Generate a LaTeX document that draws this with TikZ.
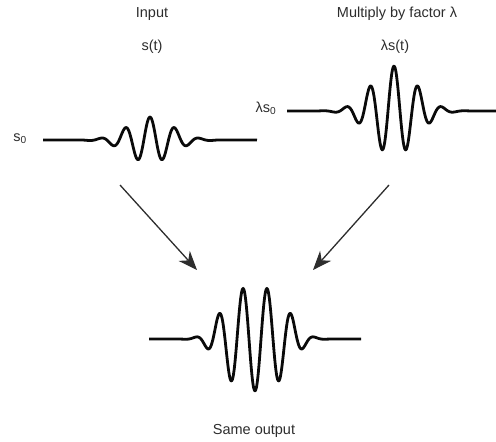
\documentclass[tikz,border=0pt]{standalone}
\usepackage{fontspec}
\setmainfont{Liberation Sans}
\usetikzlibrary{arrows.meta}
\begin{document}
\begin{tikzpicture}[x=1pt, y=-1pt]
  % Colors
  \definecolor{txtcol}{RGB}{45,45,45}
  \definecolor{inkcol}{RGB}{10,10,10}
  %
  \tikzset{
    lbl/.style={font=\fontsize{14.5}{17}\selectfont, text=txtcol, inner sep=0pt},
    wave/.style={draw=inkcol, line width=2.8pt, line join=round, smooth, samples=260},
    flow/.style={draw=txtcol, line width=1.3pt,
                 -{Stealth[length=19pt, width=15pt, inset=6pt]}},
  }
  \useasboundingbox (0,0) rectangle (496,442);
  %
  %%% INPUT %%%
  \node[lbl] (intitle) at (152, 14) {Input};
  \node[lbl] (insig) at (152, 47) {s(t)};
  \node[lbl] (inlev) at (20, 139) {s\textsubscript{0}};
  \draw[wave] plot[domain=43:257]
    (\x, {140 - 23*exp(-(((\x-150)/31)^2))*cos(14.6*(\x-150))});
  %
  %%% SCALED INPUT %%%
  \node[lbl] (sctitle) at (397, 14) {Multiply by factor λ};
  \node[lbl] (scsig) at (395, 47) {λs(t)};
  \node[lbl] (sclev) at (266, 108) {λs\textsubscript{0}};
  \draw[wave] plot[domain=287:496]
    (\x, {111 - 45*exp(-(((\x-394)/31)^2))*cos(15*(\x-394))});
  %
  %%% OUTPUT %%%
  \draw[wave] plot[domain=149:361]
    (\x, {339 + 52*exp(-((abs(\x-255)/40)^3))*cos(15*(\x-255))});
  \node[lbl] (outtitle) at (254, 431) {Same output};
  %
  % Arrows
  \coordinate (inend) at (120, 185);
  \coordinate (scend) at (389, 185);
  \coordinate (outleft) at (197, 270);
  \coordinate (outright) at (313, 270);
  \draw[flow] (inend) -- (outleft);
  \draw[flow] (scend) -- (outright);
\end{tikzpicture}
\end{document}
